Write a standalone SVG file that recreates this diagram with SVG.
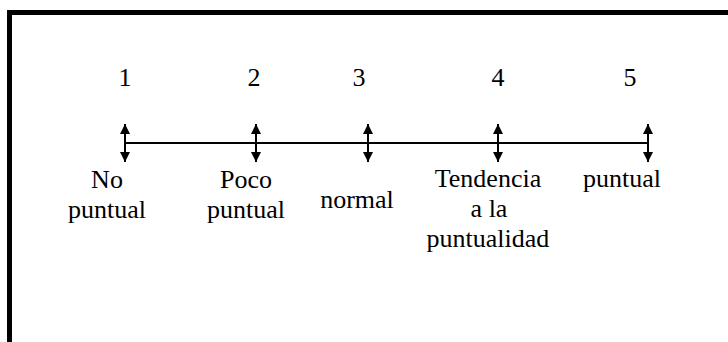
<svg xmlns="http://www.w3.org/2000/svg" width="728" height="342" viewBox="0 0 728 342">
<defs>
<style>
text{font-family:"Liberation Serif","Times New Roman",serif;font-size:26px;fill:#000;text-anchor:middle}
.tick{stroke:#000;stroke-width:2;fill:none;marker-start:url(#ah);marker-end:url(#ah)}
</style>
<marker id="ah" viewBox="0 0 10 10" refX="10" refY="5" markerUnits="userSpaceOnUse" markerWidth="10" markerHeight="10" orient="auto-start-reverse">
<path d="M0,0 L10,5 L0,10 z" fill="#000"/>
</marker>
</defs>
<rect width="728" height="342" fill="#fff"/>
<path d="M9.5,350 V12.5 H740" fill="none" stroke="#000" stroke-width="5"/>
<g id="connectors">
<line x1="125" y1="143" x2="648" y2="143" stroke="#000" stroke-width="2"/>
<line class="tick" x1="125" y1="124" x2="125" y2="162"/>
<line class="tick" x1="256" y1="124" x2="256" y2="162"/>
<line class="tick" x1="368" y1="124" x2="368" y2="162"/>
<line class="tick" x1="498" y1="124" x2="498" y2="162"/>
<line class="tick" x1="648" y1="124" x2="648" y2="162"/>
</g>
<g id="n1"><text x="125" y="86">1</text><text x="107" y="188">No</text><text x="107" y="218">puntual</text></g>
<g id="n2"><text x="254" y="86">2</text><text x="246" y="188">Poco</text><text x="246" y="218">puntual</text></g>
<g id="n3"><text x="359" y="86">3</text><text x="357" y="208">normal</text></g>
<g id="n4"><text x="498" y="86">4</text><text x="488" y="187">Tendencia</text><text x="489" y="217">a la</text><text x="488" y="247">puntualidad</text></g>
<g id="n5"><text x="630" y="86">5</text><text x="622" y="187">puntual</text></g>
</svg>
